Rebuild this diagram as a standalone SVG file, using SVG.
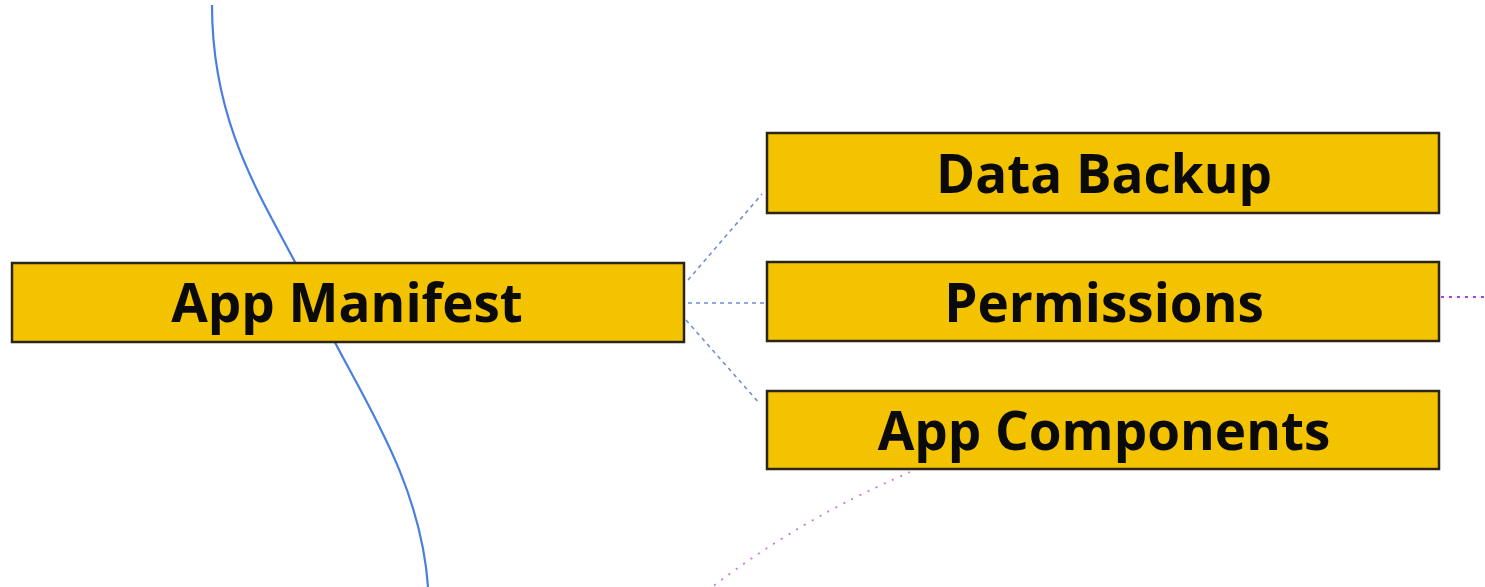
<svg xmlns="http://www.w3.org/2000/svg" width="1485" height="587" viewBox="0 0 1485 587">
<style>
.box{fill:#f4c300;stroke:#2b2515;stroke-width:2.5}
.lbl{font-family:"Open Sans","Noto Sans",sans-serif;font-weight:700;font-size:53px;fill:#0a0a0a;text-anchor:middle}
.blue{fill:none;stroke:#4a7fe0;stroke-width:2.2}
.dash{fill:none;stroke:#6f8fd0;stroke-width:1.6;stroke-dasharray:4 4}
.mag{fill:none;stroke:#b040e0;stroke-width:2.2;stroke-dasharray:3 5}
.mag2{fill:none;stroke:#c27ad8;stroke-width:1.8;stroke-dasharray:2 7}
</style>
<rect width="1485" height="587" fill="#ffffff"/>
<g id="connectors">
<path class="blue" d="M212,5 C212,140 275,215 314,300 C349,380 420,470 428,587"/>
<path class="dash" d="M688,280 L762,194"/>
<path class="dash" d="M688,303 L765,303"/>
<path class="dash" d="M686,320 L760,404"/>
<path class="mag" d="M1441,297 L1485,297"/>
<path class="mag2" d="M910,472 C870,490 800,520 712,587"/>
</g>
<g id="app-manifest">
<rect class="box" x="12" y="263" width="672" height="79"/>
<text class="lbl" x="347" y="322">App Manifest</text>
</g>
<g id="data-backup">
<rect class="box" x="767" y="133" width="672" height="80"/>
<text class="lbl" x="1104" y="193">Data Backup</text>
</g>
<g id="permissions">
<rect class="box" x="767" y="262" width="672" height="79"/>
<text class="lbl" x="1104" y="322">Permissions</text>
</g>
<g id="app-components">
<rect class="box" x="767" y="391" width="672" height="78"/>
<text class="lbl" x="1104" y="450">App Components</text>
</g>
</svg>
